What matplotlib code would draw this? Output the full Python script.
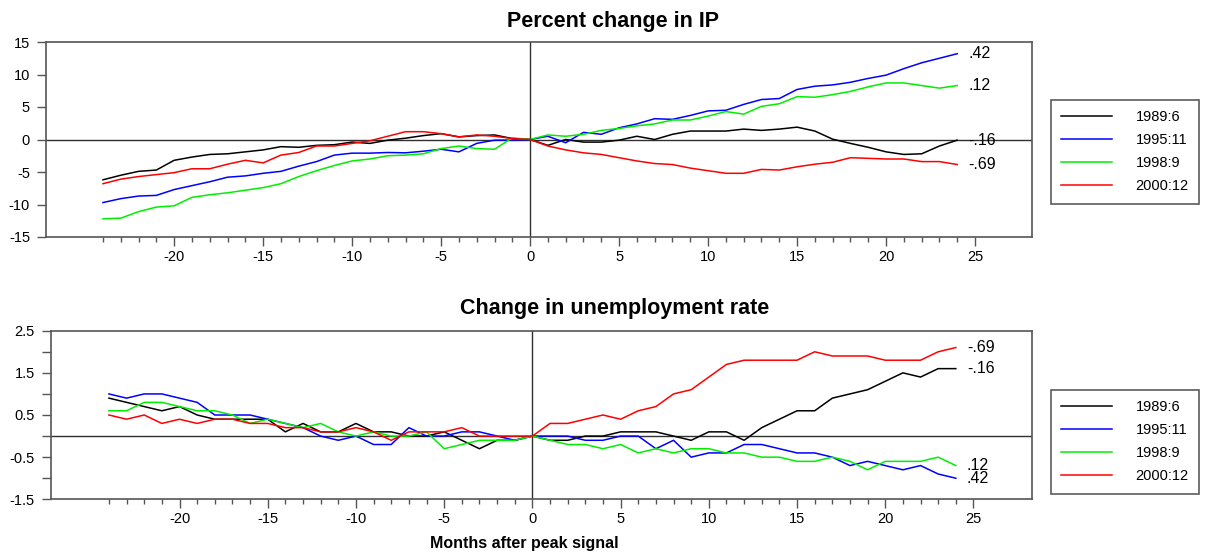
import matplotlib
matplotlib.use('Agg')
import matplotlib.pyplot as plt
import numpy as np

plt.rcParams['font.family'] = ['Liberation Sans', 'DejaVu Sans']
plt.rcParams['axes.unicode_minus'] = False

months = list(range(-24, 25))
names = ["1989:6", "1995:11", "1998:9", "2000:12"]
colors = ["#000000", "#0000ff", "#00ee00", "#ff0000"]
tags = ["-.16", ".42", ".12", "-.69"]

ip_1989 = [-6.2, -5.5, -4.9, -4.7, -3.2, -2.7, -2.3, -2.2, -1.9, -1.6, -1.1, -1.2,
           -0.9, -0.8, -0.4, -0.6, -0.1, 0.2, 0.6, 0.9, 0.4, 0.6, 0.7, 0.15, 0.0,
           -0.9, 0.0, -0.4, -0.4, -0.1, 0.5, 0.0, 0.8, 1.3, 1.3, 1.3, 1.6,
           1.4, 1.6, 1.9, 1.3, 0.05, -0.6, -1.2, -1.9, -2.3, -2.2, -1.0, -0.1]
ip_1995 = [-9.7, -9.1, -8.7, -8.6, -7.7, -7.1, -6.5, -5.8, -5.6, -5.2, -4.9, -4.1,
           -3.4, -2.4, -2.1, -2.1, -2.0, -2.05, -1.8, -1.5, -1.9, -0.6, -0.1, -0.1, 0.0,
           0.5, -0.5, 1.1, 0.8, 1.8, 2.4, 3.2, 3.1, 3.7, 4.4, 4.5, 5.4,
           6.15, 6.3, 7.7, 8.2, 8.4, 8.8, 9.4, 9.9, 10.9, 11.8, 12.5, 13.2]
ip_1998 = [-12.2, -12.1, -11.1, -10.4, -10.2, -8.9, -8.5, -8.2, -7.8, -7.4, -6.8, -5.7,
           -4.8, -4.0, -3.3, -3.0, -2.5, -2.4, -2.2, -1.4, -1.0, -1.4, -1.5, 0.25, 0.0,
           0.7, 0.5, 0.8, 1.4, 1.7, 2.1, 2.4, 3.0, 3.0, 3.6, 4.3, 3.9,
           5.1, 5.5, 6.6, 6.5, 6.9, 7.4, 8.1, 8.7, 8.7, 8.3, 7.9, 8.3]
ip_2000 = [-6.8, -6.1, -5.7, -5.4, -5.1, -4.5, -4.5, -3.8, -3.2, -3.6, -2.4, -2.0,
           -1.0, -1.0, -0.6, -0.2, 0.5, 1.2, 1.2, 0.9, 0.4, 0.7, 0.5, 0.15, 0.0,
           -1.0, -1.6, -2.05, -2.3, -2.8, -3.3, -3.7, -3.85, -4.4, -4.8, -5.2, -5.2,
           -4.6, -4.7, -4.2, -3.8, -3.5, -2.8, -2.9, -3.0, -3.0, -3.4, -3.4, -3.85]

ur_1989 = [0.9, 0.8, 0.7, 0.6, 0.7, 0.5, 0.4, 0.4, 0.4, 0.4, 0.1, 0.3,
           0.1, 0.1, 0.3, 0.1, 0.1, 0.0, 0.0, 0.1, -0.1, -0.3, -0.1, -0.1, 0.0,
           -0.1, -0.1, 0.0, 0.0, 0.1, 0.1, 0.1, 0.0, -0.1, 0.1, 0.1, -0.1,
           0.2, 0.4, 0.6, 0.6, 0.9, 1.0, 1.1, 1.3, 1.5, 1.4, 1.6, 1.6]
ur_1995 = [1.0, 0.9, 1.0, 1.0, 0.9, 0.8, 0.5, 0.5, 0.5, 0.4, 0.3, 0.2,
           0.0, -0.1, 0.0, -0.2, -0.2, 0.2, 0.0, 0.0, 0.1, 0.1, 0.0, -0.1, 0.0,
           0.0, 0.0, -0.1, -0.1, 0.0, 0.0, -0.3, -0.1, -0.5, -0.4, -0.4, -0.2,
           -0.2, -0.3, -0.4, -0.4, -0.5, -0.7, -0.6, -0.7, -0.8, -0.7, -0.9, -1.0]
ur_1998 = [0.6, 0.6, 0.8, 0.8, 0.7, 0.6, 0.6, 0.5, 0.3, 0.4, 0.3, 0.2,
           0.3, 0.1, 0.0, 0.1, 0.0, 0.0, 0.1, -0.3, -0.2, -0.1, -0.1, -0.1, 0.0,
           -0.1, -0.2, -0.2, -0.3, -0.2, -0.4, -0.3, -0.4, -0.3, -0.3, -0.4, -0.4,
           -0.5, -0.5, -0.6, -0.6, -0.5, -0.6, -0.8, -0.6, -0.6, -0.6, -0.5, -0.7]
ur_2000 = [0.5, 0.4, 0.5, 0.3, 0.4, 0.3, 0.4, 0.4, 0.3, 0.3, 0.2, 0.2,
           0.1, 0.1, 0.2, 0.1, -0.1, 0.1, 0.1, 0.1, 0.2, 0.0, 0.0, 0.0, 0.0,
           0.3, 0.3, 0.4, 0.5, 0.4, 0.6, 0.7, 1.0, 1.1, 1.4, 1.7, 1.8,
           1.8, 1.8, 1.8, 2.0, 1.9, 1.9, 1.9, 1.8, 1.8, 1.8, 2.0, 2.1]

ip_series = [ip_1989, ip_1995, ip_1998, ip_2000]
ur_series = [ur_1989, ur_1995, ur_1998, ur_2000]

W, H = 1207, 554
fig = plt.figure(figsize=(W/100.0, H/100.0), dpi=100)

def px_box(left, top, right, bottom):
	return [left/W, 1-bottom/H, (right-left)/W, (bottom-top)/H]

def setup(ax, xlim):
	ax.set_xlim(xlim)
	ax.axhline(0, color='#303030', lw=1.0, zorder=1)
	ax.axvline(0, color='#303030', lw=1.0, zorder=1)
	ax.set_xticks(np.arange(-20, 26, 5))
	ax.set_xticks(np.arange(-24, 25, 1), minor=True)
	ax.tick_params(axis='x', which='major', direction='out', length=6.5, width=1.0,
		colors='#555555', labelcolor='black', labelsize=10.5, pad=3)
	ax.tick_params(axis='x', which='minor', direction='out', length=3.5, width=1.0,
		colors='#555555')
	ax.tick_params(axis='y', direction='out', length=6.5, width=1.0,
		colors='#555555', labelcolor='black', labelsize=10.5, pad=5)
	for s in ax.spines.values():
		s.set_color('#555555')
		s.set_linewidth(1.2)

def draw(ax, series):
	for vals, name, c, t in zip(series, names, colors, tags):
		ax.plot(months, vals, color=c, lw=1.1, label=name, zorder=3)
		ax.annotate(t, xy=(months[-1], vals[-1]), xytext=(8, 0),
			textcoords='offset points', va='center', ha='left', fontsize=11.5)

def legend(ax, top_px):
	leg = ax.legend(loc='upper left', bbox_to_anchor=(1051.0/W, 1-top_px/H),
		bbox_transform=fig.transFigure, borderaxespad=0, fontsize=10.5,
		handlelength=3.5, handletextpad=1.6, borderpad=0.7, labelspacing=0.62,
		fancybox=False, frameon=True)
	leg.get_frame().set_edgecolor('#333333')
	leg.get_frame().set_linewidth(1.2)

ax1 = fig.add_axes(px_box(46, 42, 1032, 237))
draw(ax1, ip_series)
setup(ax1, (-27.2, 28.2))
ax1.set_ylim(-15, 15)
ax1.set_yticks(np.arange(-15, 16, 5))
legend(ax1, 100)

ax2 = fig.add_axes(px_box(50.7, 330.7, 1031.7, 499.3))
draw(ax2, ur_series)
setup(ax2, (-27.3, 28.3))
ax2.set_ylim(-1.5, 2.5)
yt = np.arange(-1.5, 2.51, 0.5)
ax2.set_yticks(yt)
ax2.set_yticklabels([("%.1f" % v) if abs(v*2) % 2 == 1 else "" for v in yt])
legend(ax2, 390)

fig.text(613.0/W, 1-27.3/H, "Percent change in IP", ha='center', va='baseline',
	fontsize=15.5, fontweight='bold')
fig.text(615.0/W, 1-314.0/H, "Change in unemployment rate", ha='center', va='baseline',
	fontsize=15.5, fontweight='bold')
fig.text(524.0/W, 1-548.0/H, "Months after peak signal", ha='center', va='baseline',
	fontsize=11.5, fontweight='bold')

fig.savefig('out.png', dpi=100)
